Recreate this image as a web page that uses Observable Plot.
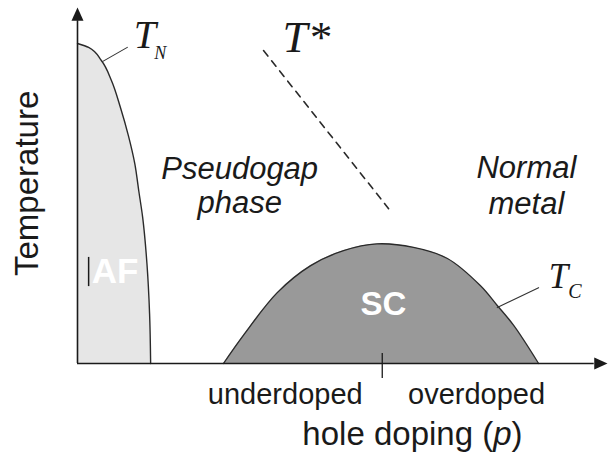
<!DOCTYPE html>
<html>
<head>
<meta charset="utf-8">
<script src="https://cdn.jsdelivr.net/npm/d3@7"></script>
<script src="https://cdn.jsdelivr.net/npm/@observablehq/plot@0.6"></script>
<style>
  html, body { margin: 0; padding: 0; background: #fff; }
  #chart svg { display: block; }
</style>
</head>
<body>
<div id="chart"></div>
<script>
// Schematic cuprate phase diagram (arbitrary units: doping 0..10, temperature 0..10)
// AF boundary (T_N), listed from the baseline up
const afTemp   = [0, 1.40, 2.81, 4.10, 4.86, 5.62, 6.40, 7.19, 7.95, 8.51, 8.88, 8.99];
const afDoping = [1.38, 1.36, 1.31, 1.23, 1.155, 1.08, 0.96, 0.81, 0.64, 0.45, 0.21, 0];

// SC dome (T_c)
const scDoping = [2.755, 3.13, 3.77, 4.40, 5.02, 5.65, 6.34, 6.98, 7.60, 7.92, 8.23, 8.70];
const scTemp   = [0, 0.79, 1.99, 2.75, 3.17, 3.36, 3.26, 2.95, 2.19, 1.63, 1.07, 0];

const tStarDoping = [3.51, 5.87];
const tStarTemp   = [8.79, 4.35];

const tnLeaderDoping = [0.47, 0.94];
const tnLeaderTemp   = [8.48, 8.88];
const tcLeaderDoping = [7.92, 8.70];
const tcLeaderTemp   = [1.57, 2.13];

const optimalDoping = 5.75;

const xAxisEnd = 9.75, yAxisEnd = 9.63, xMax = 10, yMax = 10;

const regionLabels = ["Pseudogap", "phase", "Normal", "metal"];
const regionDoping = [3.06, 3.06, 8.47, 8.47];
const regionTemp   = [5.17, 4.24, 5.20, 4.21];

const phaseLabels = ["AF", "SC"];
const phaseDoping = [0.71, 5.77];
const phaseTemp   = [2.25, 1.35];

const tickLabels = ["underdoped", "overdoped"];
const tickDoping = [3.92, 7.53];
const tickTemp   = -1.15;

const xTitle = "hole doping (p)";
const yTitle = "Temperature";

const toPts = (xs, ys) => xs.map((x, i) => ({x, y: ys[i]}));
const af = toPts(afDoping, afTemp);
const sc = toPts(scDoping, scTemp);
const tstar = toPts(tStarDoping, tStarTemp);
const tnLeader = toPts(tnLeaderDoping, tnLeaderTemp);
const tcLeader = toPts(tcLeaderDoping, tcLeaderTemp);
const regions = regionLabels.map((t, i) => ({t, x: regionDoping[i], y: regionTemp[i]}));
const phases = phaseLabels.map((t, i) => ({t, x: phaseDoping[i], y: phaseTemp[i]}));
const ticks = tickLabels.map((t, i) => ({t, x: tickDoping[i], y: tickTemp}));

const sans = "'Liberation Sans', Arial, Helvetica, sans-serif";
const serif = "'Liberation Serif', 'Times New Roman', serif";
const ink = "#1a1a1a";

const yArrow = [{x: 0, y: yMax}, {x: -0.113, y: yAxisEnd}, {x: 0.113, y: yAxisEnd}];
const xArrow = [{x: xMax, y: 0}, {x: xAxisEnd, y: 0.17}, {x: xAxisEnd, y: -0.17}];

const plot = Plot.plot({
  width: 608,
  height: 457,
  margin: 0,
  x: {domain: [0, 10], range: [77, 607], axis: null},
  y: {domain: [0, 10], range: [363, 7], axis: null},
  style: {background: "#fff", overflow: "visible"},
  marks: [
    Plot.areaX(af, {y: "y", x1: 0, x2: "x", curve: "monotone-y", fill: "#e6e6e6"}),
    Plot.areaY(sc, {x: "x", y1: 0, y2: "y", curve: "catmull-rom", fill: "#999999"}),
    Plot.line(af, {x: "x", y: "y", curve: "monotone-y", stroke: "#2a2a2a", strokeWidth: 1.4}),
    Plot.line(sc, {x: "x", y: "y", curve: "catmull-rom", stroke: "#2a2a2a", strokeWidth: 1.3}),
    Plot.line(tstar, {x: "x", y: "y", stroke: "#2a2a2a", strokeWidth: 1.6, strokeDasharray: "7,6"}),
    Plot.line(tnLeader, {x: "x", y: "y", stroke: "#333", strokeWidth: 1.1}),
    Plot.line(tcLeader, {x: "x", y: "y", stroke: "#333", strokeWidth: 1.1}),
    // axes
    Plot.ruleX([0], {y1: 0, y2: yAxisEnd, stroke: ink, strokeWidth: 1.6}),
    Plot.ruleY([0], {x1: 0, x2: xAxisEnd, stroke: ink, strokeWidth: 1.6}),
    Plot.line(yArrow, {x: "x", y: "y", fill: ink, stroke: "none"}),
    Plot.line(xArrow, {x: "x", y: "y", fill: ink, stroke: "none"}),
    Plot.ruleX([optimalDoping], {y1: -0.42, y2: 0.28, stroke: ink, strokeWidth: 1.3}),
    // small mark left of AF
    Plot.ruleX([0.21], {y1: 2.16, y2: 2.98, stroke: ink, strokeWidth: 1.5}),
    // phase labels
    Plot.text(phases, {x: "x", y: "y", text: "t", fill: "#fff", fontFamily: sans, fontWeight: "bold", fontSize: d => d.t === "AF" ? 35 : 33, lineAnchor: "bottom", textAnchor: "middle"}),
    // region labels
    Plot.text(regions, {x: "x", y: "y", text: "t", fill: ink, fontFamily: sans, fontStyle: "italic", fontSize: 31, lineAnchor: "bottom", textAnchor: "middle"}),
    // T labels
    Plot.text(["T"], {x: 1.06, y: 8.85, fill: ink, fontFamily: serif, fontStyle: "italic", fontSize: 40, lineAnchor: "bottom", textAnchor: "start"}),
    Plot.text(["N"], {x: 1.45, y: 8.54, fill: ink, fontFamily: serif, fontStyle: "italic", fontSize: 18, lineAnchor: "bottom", textAnchor: "start"}),
    Plot.text(["T*"], {x: 3.87, y: 8.76, fill: ink, fontFamily: serif, fontStyle: "italic", fontSize: 45, lineAnchor: "bottom", textAnchor: "start"}),
    Plot.text(["T"], {x: 8.89, y: 2.11, fill: ink, fontFamily: serif, fontStyle: "italic", fontSize: 35, lineAnchor: "bottom", textAnchor: "start"}),
    Plot.text(["C"], {x: 9.26, y: 1.85, fill: ink, fontFamily: serif, fontStyle: "italic", fontSize: 20, lineAnchor: "bottom", textAnchor: "start"}),
    // tick labels
    Plot.text(ticks, {x: "x", y: "y", text: "t", fill: ink, fontFamily: sans, fontSize: 29, lineAnchor: "bottom", textAnchor: "middle"}),
    // axis titles
    Plot.text([xTitle], {x: 6.32, y: -2.30, fill: ink, fontFamily: sans, fontSize: 33, lineAnchor: "bottom", textAnchor: "middle"}),
    Plot.text([yTitle], {x: -0.74, y: 5.06, rotate: -90, fill: ink, fontFamily: sans, fontSize: 33, lineAnchor: "bottom", textAnchor: "middle"})
  ]
});

// italic p in the x title
d3.select(plot).selectAll("text").filter(function() { return this.textContent === xTitle; }).each(function() {
  const el = d3.select(this);
  el.text("hole doping (");
  el.append("tspan").attr("font-style", "italic").text("p");
  el.append("tspan").text(")");
});

document.getElementById("chart").appendChild(plot);
</script>
</body>
</html>
